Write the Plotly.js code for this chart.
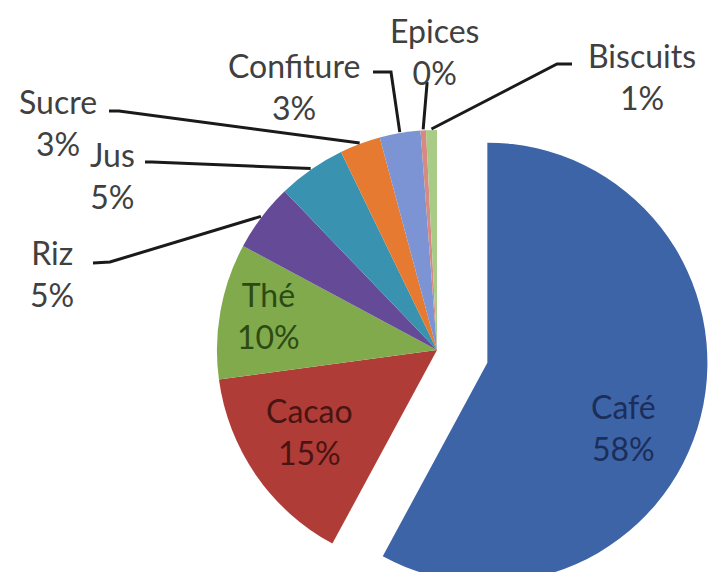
<!DOCTYPE html>
<html><head><meta charset="utf-8">
<script src="https://cdn.plot.ly/plotly-3.0.1.min.js"></script>
<style>html,body{margin:0;padding:0;overflow:hidden;background:#fff}</style>
</head><body>
<div id="chart" style="width:712px;height:640px"></div>
<script>
// ---- data ----
const labels = ['Café','Cacao','Thé','Riz','Jus','Sucre','Confiture','Epices','Biscuits'];
const values = [58, 15, 10, 5, 5, 3, 3, 0.4, 0.8];

// ---- styles ----
const sliceColors = ['#3E64A8','#B03C38','#80AA4C','#654A98','#3892B0','#E57A30','#7C94D4','#D68A82','#A8CC88'];
const pulls = [0.236,0,0,0,0,0,0,0,0];
const W = 712, H = 640;
const FONT = 'Lato, "Open Sans", sans-serif';
const FS = 32;

// label placement (pixel positions of text centres) and leader-line anchors
const inside = {
  'Café':  {x:623, y:427, color:'#1B2E5A'},
  'Cacao': {x:309, y:431, color:'#4A1412'},
  'Thé':   {x:268, y:315, color:'#2D4A14'}
};
const outside = {
  'Riz':       {x:52,  y:273, line:[[93,263],[110,262]]},
  'Jus':       {x:112, y:175, line:[[145,162],[152,162]]},
  'Sucre':     {x:58,  y:123, line:[[109,111],[119,111]]},
  'Confiture': {x:294, y:86,  line:[[373,72],[391,72]]},
  'Epices':    {x:434, y:51,  line:[[427,82],[427,84]]},
  'Biscuits':  {x:642, y:76,  line:[[572,64],[557,64]]}
};

const trace = {
  type:'pie', labels:labels, values:values, sort:false,
  direction:'clockwise', rotation:0, pull:pulls,
  marker:{colors:sliceColors, line:{width:0}},
  textinfo:'none', hoverinfo:'none', showlegend:false,
  domain:{x:[165/W, 709/W], y:[(H-622)/H, (H-78)/H]}
};
const layout = {
  width:W, height:H, margin:{l:0,r:0,t:0,b:0},
  paper_bgcolor:'#fff', plot_bgcolor:'#fff', showlegend:false
};

const gd = document.getElementById('chart');
Plotly.newPlot(gd, [trace], layout, {displayModeBar:false, staticPlot:true}).then(function(){
  const cd0 = gd.calcdata[0][0];
  const cx = cd0.cx, cy = cd0.cy, r = cd0.r;
  const total = values.reduce((a,b)=>a+b,0);
  const px = x => x / W, py = y => 1 - y / H;
  const annotations = [], shapes = [];
  let cum = 0;
  labels.forEach(function(lab, i){
    const v = values[i];
    const mid = (cum + v/2) / total * 2 * Math.PI;
    cum += v;
    const pct = Math.round(v / total * 100) + '%';
    if (inside[lab]) {
      const p = inside[lab];
      annotations.push({xref:'paper', yref:'paper', x:px(p.x), y:py(p.y), xanchor:'center', yanchor:'middle',
        text: lab + '<br>' + pct, showarrow:false, font:{family:FONT, size:FS, color:p.color}});
    } else if (outside[lab]) {
      const p = outside[lab];
      annotations.push({xref:'paper', yref:'paper', x:px(p.x), y:py(p.y), xanchor:'center', yanchor:'middle',
        text: lab + '<br>' + pct, showarrow:false, font:{family:FONT, size:FS, color:'#404040'}});
      const tx = cx + (r + 1) * Math.sin(mid);
      const ty = cy - (r + 1) * Math.cos(mid);
      const a = p.line[0], b = p.line[1];
      const path = 'M ' + px(a[0]) + ' ' + py(a[1]) + ' L ' + px(b[0]) + ' ' + py(b[1]) + ' L ' + px(tx) + ' ' + py(ty);
      shapes.push({type:'path', xref:'paper', yref:'paper', path:path, line:{color:'#1A1A1A', width:3}});
    }
  });
  return Plotly.relayout(gd, {annotations:annotations, shapes:shapes});
});
</script>
</body></html>
